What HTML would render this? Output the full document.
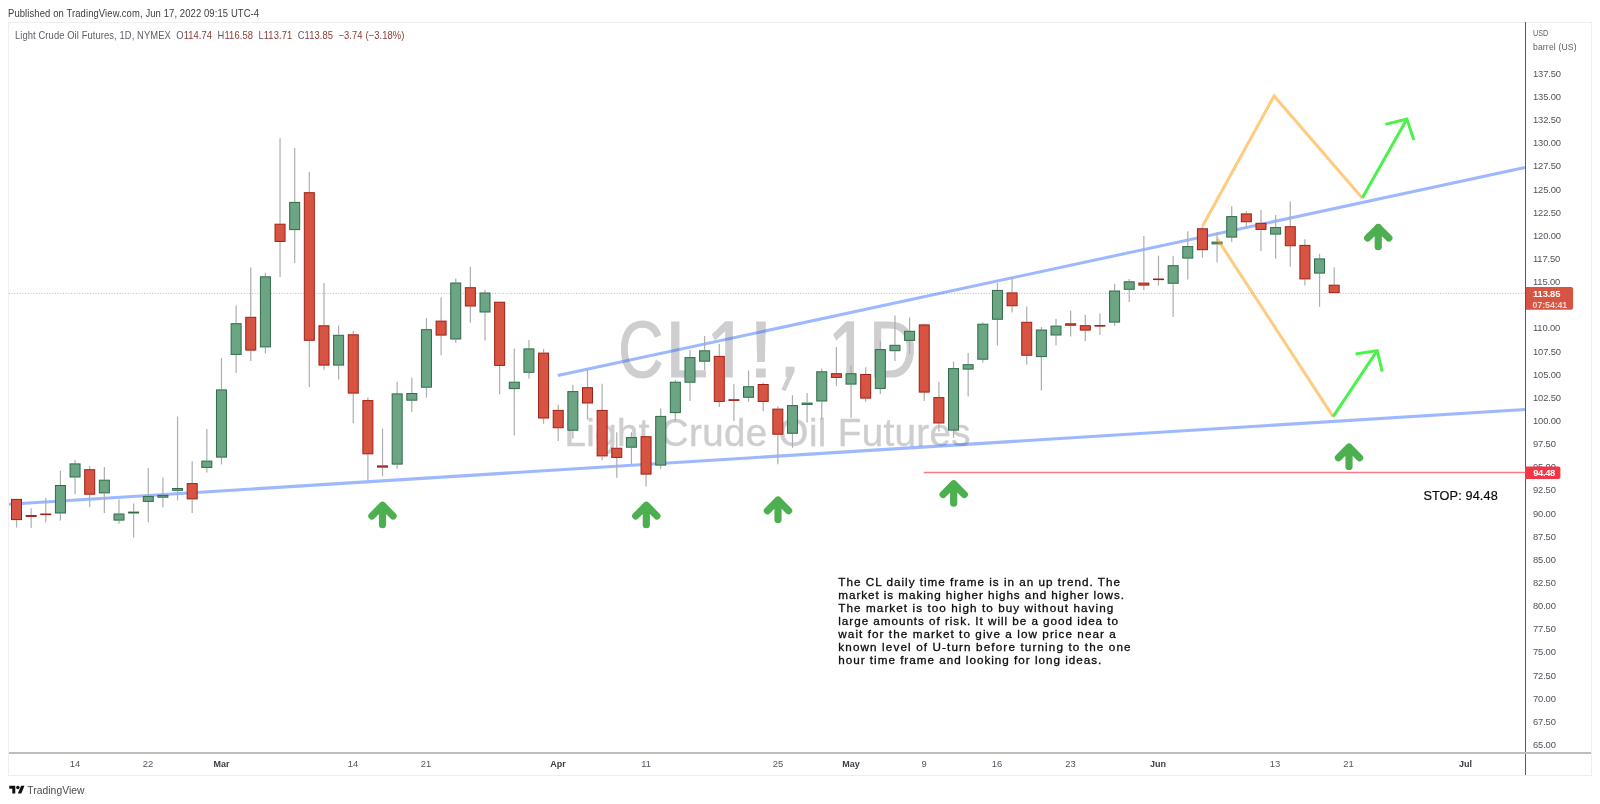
<!DOCTYPE html>
<html><head><meta charset="utf-8"><title>CL1! chart</title>
<style>
html,body{margin:0;padding:0;background:#fff;}
body{width:1600px;height:804px;position:relative;overflow:hidden;font-family:"Liberation Sans",sans-serif;}
div{position:absolute;white-space:nowrap;}
#root{left:0;top:0;width:1600px;height:804px;will-change:transform;}
#pub{left:8.4px;top:7.3px;font-size:10.5px;color:#3c3c3c;line-height:12px;letter-spacing:0.12px;transform:scaleX(0.899);transform-origin:0 0;}
#frame{left:8px;top:22px;width:1584px;height:754px;border:1px solid #eceef4;box-sizing:border-box;}
#legend{left:14.9px;top:29.9px;font-size:10.3px;line-height:12px;color:#5e6068;letter-spacing:0.1px;transform:scaleX(0.911);transform-origin:0 0;}
#legend b{font-weight:normal;color:#8a3a33;}
#wm1{left:467px;width:600px;text-align:center;top:299.5px;font-size:82.5px;line-height:92px;color:#3c3e46;-webkit-text-stroke:1.2px #3c3e46;opacity:0.25;transform:scaleX(0.905);}
#wm2{left:467.7px;width:600px;text-align:center;top:410.5px;font-size:38.5px;line-height:44px;color:#3c3e46;-webkit-text-stroke:0.5px #3c3e46;opacity:0.25;letter-spacing:0.37px;}
svg{position:absolute;left:0;top:0;}
#paxis{left:1525px;top:22px;width:1px;height:753px;background:#5a5a5a;}
#taxis{left:9px;top:752.3px;width:1582px;height:1.6px;background:#bdbdbd;}
.pl{left:1533px;font-size:9.4px;line-height:12px;color:#51535c;letter-spacing:-0.15px;}
.dl{width:40px;text-align:center;top:758px;font-size:9.4px;line-height:12px;color:#51535c;}
.dl.b{font-weight:bold;color:#3c3e46;font-size:9px;}
#unit{left:1533px;top:26.2px;font-size:8.6px;line-height:14.3px;color:#5b5d66;transform:scaleX(0.84);transform-origin:0 0;}
#unit2{left:1533px;top:40.3px;font-size:8.6px;line-height:14.3px;color:#5b5d66;letter-spacing:0.15px;}
#last{left:1525px;top:287px;width:48px;height:22.7px;}
#last .a{left:8.1px;top:1px;font-size:9.4px;line-height:12px;color:#fff;font-weight:bold;letter-spacing:-0.18px;}
#last .b{left:7.6px;top:11.6px;font-size:8.8px;line-height:12px;color:rgba(255,255,255,0.75);font-weight:bold;letter-spacing:-0.08px;}
#stopl{left:1525px;top:466px;width:35.4px;height:13px;}
#stopl .a{left:8.2px;top:1px;font-size:9.4px;line-height:12px;color:#fff;font-weight:bold;letter-spacing:-0.35px;}
#stopt{left:1423.4px;top:489.2px;font-size:12.7px;line-height:14px;color:#0a0a0a;letter-spacing:0.12px;-webkit-text-stroke:0.2px #0a0a0a;}
.nl{left:838.3px;font-size:11.7px;line-height:13px;color:#0a0a0a;-webkit-text-stroke:0.3px #0a0a0a;}
#logo{left:8.6px;top:783.5px;}
#logot{left:27.3px;top:784.5px;font-size:10.3px;line-height:12px;color:#4a4a4a;letter-spacing:0.05px;}
</style></head><body><div id="root">
<div id="pub">Published on TradingView.com, Jun 17, 2022 09:15 UTC-4</div>
<div id="frame"></div>
<svg width="1600" height="804" viewBox="0 0 1600 804"><g opacity="0.25" fill="#3c3e46" stroke="#3c3e46" stroke-width="1.2" font-family="Liberation Sans, sans-serif" font-size="80"><text transform="translate(618.20,377) scale(0.782,1)" x="0" y="0">C</text><text transform="translate(665.50,377) scale(0.953,1)" x="0" y="0">L</text><text transform="translate(748.65,377) scale(1.100,1)" x="0" y="0">!</text><text transform="translate(869.20,377) scale(0.819,1)" x="0" y="0">D</text><path stroke="none" d="M725.2 321.2 H732.8 V377.6 H725.2 V331.3 L715.0 340.6 L711.8 334.6 Z"/><path stroke="none" d="M846.4 321.2 H854.0 V377.6 H846.4 V331.3 L836.2 340.6 L833.0 334.6 Z"/><path stroke="none" d="M785.6 366.8 H794.6 V371.5 L785.4 391.2 L781.4 389.6 L787 377 H785.6 Z"/></g></svg>
<div id="wm2">Light Crude Oil Futures</div>
<div id="paxis"></div>
<div class="pl" style="top:67.9px">137.50</div>
<div class="pl" style="top:91.0px">135.00</div>
<div class="pl" style="top:114.1px">132.50</div>
<div class="pl" style="top:137.3px">130.00</div>
<div class="pl" style="top:160.4px">127.50</div>
<div class="pl" style="top:183.6px">125.00</div>
<div class="pl" style="top:206.7px">122.50</div>
<div class="pl" style="top:229.9px">120.00</div>
<div class="pl" style="top:253.0px">117.50</div>
<div class="pl" style="top:276.1px">115.00</div>
<div class="pl" style="top:299.3px">112.50</div>
<div class="pl" style="top:322.4px">110.00</div>
<div class="pl" style="top:345.6px">107.50</div>
<div class="pl" style="top:368.7px">105.00</div>
<div class="pl" style="top:391.9px">102.50</div>
<div class="pl" style="top:415.0px">100.00</div>
<div class="pl" style="top:438.1px">97.50</div>
<div class="pl" style="top:461.3px">95.00</div>
<div class="pl" style="top:484.4px">92.50</div>
<div class="pl" style="top:507.6px">90.00</div>
<div class="pl" style="top:530.7px">87.50</div>
<div class="pl" style="top:553.9px">85.00</div>
<div class="pl" style="top:577.0px">82.50</div>
<div class="pl" style="top:600.1px">80.00</div>
<div class="pl" style="top:623.3px">77.50</div>
<div class="pl" style="top:646.4px">75.00</div>
<div class="pl" style="top:669.6px">72.50</div>
<div class="pl" style="top:692.7px">70.00</div>
<div class="pl" style="top:715.9px">67.50</div>
<div class="pl" style="top:739.0px">65.00</div>
<svg width="1600" height="804" viewBox="0 0 1600 804">
<line x1="9.00" y1="293.40" x2="1525.00" y2="293.40" stroke="#e8837a" stroke-width="1" stroke-dasharray="1 1.7" opacity="0.75"/>
<line x1="9.00" y1="504.19" x2="1525.00" y2="409.44" stroke="rgba(41,98,255,0.45)" stroke-width="3" />
<line x1="557.80" y1="375.55" x2="1525.00" y2="167.51" stroke="rgba(41,98,255,0.45)" stroke-width="3" />
<line x1="923.75" y1="472.50" x2="1525.00" y2="472.50" stroke="rgba(242,54,69,0.65)" stroke-width="1.5" />
<line x1="16.50" y1="520.10" x2="16.50" y2="527.60" stroke="#adadad" stroke-width="1.2" />
<rect x="11.50" y="499.40" width="10" height="20.20" fill="#d75442" stroke="#9e2014" stroke-width="1"/>
<line x1="31.14" y1="508.30" x2="31.14" y2="515.00" stroke="#adadad" stroke-width="1.2" />
<line x1="31.14" y1="516.90" x2="31.14" y2="528.10" stroke="#adadad" stroke-width="1.2" />
<rect x="26.14" y="515.50" width="10" height="0.90" fill="#d75442" stroke="#9e2014" stroke-width="1"/>
<line x1="45.78" y1="497.90" x2="45.78" y2="513.50" stroke="#adadad" stroke-width="1.2" />
<line x1="45.78" y1="515.00" x2="45.78" y2="522.30" stroke="#adadad" stroke-width="1.2" />
<rect x="40.78" y="514.00" width="10" height="0.60" fill="#d75442" stroke="#9e2014" stroke-width="1"/>
<line x1="60.42" y1="470.70" x2="60.42" y2="485.00" stroke="#adadad" stroke-width="1.2" />
<line x1="60.42" y1="513.50" x2="60.42" y2="520.60" stroke="#adadad" stroke-width="1.2" />
<rect x="55.42" y="485.50" width="10" height="27.50" fill="#6ba583" stroke="#2f6b49" stroke-width="1"/>
<line x1="75.06" y1="460.00" x2="75.06" y2="463.40" stroke="#adadad" stroke-width="1.2" />
<line x1="75.06" y1="477.50" x2="75.06" y2="494.20" stroke="#adadad" stroke-width="1.2" />
<rect x="70.06" y="463.90" width="10" height="13.10" fill="#6ba583" stroke="#2f6b49" stroke-width="1"/>
<line x1="89.70" y1="466.00" x2="89.70" y2="469.20" stroke="#adadad" stroke-width="1.2" />
<line x1="89.70" y1="494.70" x2="89.70" y2="507.30" stroke="#adadad" stroke-width="1.2" />
<rect x="84.70" y="469.70" width="10" height="24.50" fill="#d75442" stroke="#9e2014" stroke-width="1"/>
<line x1="104.35" y1="467.00" x2="104.35" y2="479.70" stroke="#adadad" stroke-width="1.2" />
<line x1="104.35" y1="493.40" x2="104.35" y2="513.00" stroke="#adadad" stroke-width="1.2" />
<rect x="99.35" y="480.20" width="10" height="12.70" fill="#6ba583" stroke="#2f6b49" stroke-width="1"/>
<line x1="118.99" y1="499.40" x2="118.99" y2="513.50" stroke="#adadad" stroke-width="1.2" />
<line x1="118.99" y1="520.60" x2="118.99" y2="523.80" stroke="#adadad" stroke-width="1.2" />
<rect x="113.99" y="514.00" width="10" height="6.10" fill="#6ba583" stroke="#2f6b49" stroke-width="1"/>
<line x1="133.63" y1="503.60" x2="133.63" y2="511.60" stroke="#adadad" stroke-width="1.2" />
<line x1="133.63" y1="513.50" x2="133.63" y2="537.50" stroke="#adadad" stroke-width="1.2" />
<rect x="128.63" y="512.10" width="10" height="0.90" fill="#6ba583" stroke="#2f6b49" stroke-width="1"/>
<line x1="148.27" y1="467.90" x2="148.27" y2="495.90" stroke="#adadad" stroke-width="1.2" />
<line x1="148.27" y1="501.90" x2="148.27" y2="522.30" stroke="#adadad" stroke-width="1.2" />
<rect x="143.27" y="496.40" width="10" height="5.00" fill="#6ba583" stroke="#2f6b49" stroke-width="1"/>
<line x1="162.91" y1="477.50" x2="162.91" y2="494.90" stroke="#adadad" stroke-width="1.2" />
<line x1="162.91" y1="497.70" x2="162.91" y2="507.30" stroke="#adadad" stroke-width="1.2" />
<rect x="157.91" y="495.40" width="10" height="1.80" fill="#6ba583" stroke="#2f6b49" stroke-width="1"/>
<line x1="177.55" y1="416.50" x2="177.55" y2="488.00" stroke="#adadad" stroke-width="1.2" />
<line x1="177.55" y1="490.80" x2="177.55" y2="500.40" stroke="#adadad" stroke-width="1.2" />
<rect x="172.55" y="488.50" width="10" height="1.80" fill="#6ba583" stroke="#2f6b49" stroke-width="1"/>
<line x1="192.19" y1="461.30" x2="192.19" y2="483.10" stroke="#adadad" stroke-width="1.2" />
<line x1="192.19" y1="499.40" x2="192.19" y2="513.00" stroke="#adadad" stroke-width="1.2" />
<rect x="187.19" y="483.60" width="10" height="15.30" fill="#d75442" stroke="#9e2014" stroke-width="1"/>
<line x1="206.83" y1="429.10" x2="206.83" y2="460.60" stroke="#adadad" stroke-width="1.2" />
<line x1="206.83" y1="467.90" x2="206.83" y2="472.60" stroke="#adadad" stroke-width="1.2" />
<rect x="201.83" y="461.10" width="10" height="6.30" fill="#6ba583" stroke="#2f6b49" stroke-width="1"/>
<line x1="221.47" y1="358.10" x2="221.47" y2="389.40" stroke="#adadad" stroke-width="1.2" />
<line x1="221.47" y1="457.60" x2="221.47" y2="464.40" stroke="#adadad" stroke-width="1.2" />
<rect x="216.47" y="389.90" width="10" height="67.20" fill="#6ba583" stroke="#2f6b49" stroke-width="1"/>
<line x1="236.12" y1="305.60" x2="236.12" y2="323.20" stroke="#adadad" stroke-width="1.2" />
<line x1="236.12" y1="354.90" x2="236.12" y2="373.10" stroke="#adadad" stroke-width="1.2" />
<rect x="231.12" y="323.70" width="10" height="30.70" fill="#6ba583" stroke="#2f6b49" stroke-width="1"/>
<line x1="250.76" y1="267.50" x2="250.76" y2="316.80" stroke="#adadad" stroke-width="1.2" />
<line x1="250.76" y1="350.60" x2="250.76" y2="360.90" stroke="#adadad" stroke-width="1.2" />
<rect x="245.76" y="317.30" width="10" height="32.80" fill="#d75442" stroke="#9e2014" stroke-width="1"/>
<line x1="265.40" y1="272.80" x2="265.40" y2="276.30" stroke="#adadad" stroke-width="1.2" />
<line x1="265.40" y1="347.40" x2="265.40" y2="353.40" stroke="#adadad" stroke-width="1.2" />
<rect x="260.40" y="276.80" width="10" height="70.10" fill="#6ba583" stroke="#2f6b49" stroke-width="1"/>
<line x1="280.04" y1="138.20" x2="280.04" y2="223.70" stroke="#adadad" stroke-width="1.2" />
<line x1="280.04" y1="241.90" x2="280.04" y2="276.90" stroke="#adadad" stroke-width="1.2" />
<rect x="275.04" y="224.20" width="10" height="17.20" fill="#d75442" stroke="#9e2014" stroke-width="1"/>
<line x1="294.68" y1="148.10" x2="294.68" y2="201.90" stroke="#adadad" stroke-width="1.2" />
<line x1="294.68" y1="230.10" x2="294.68" y2="262.90" stroke="#adadad" stroke-width="1.2" />
<rect x="289.68" y="202.40" width="10" height="27.20" fill="#6ba583" stroke="#2f6b49" stroke-width="1"/>
<line x1="309.32" y1="172.10" x2="309.32" y2="192.20" stroke="#adadad" stroke-width="1.2" />
<line x1="309.32" y1="340.80" x2="309.32" y2="387.10" stroke="#adadad" stroke-width="1.2" />
<rect x="304.32" y="192.70" width="10" height="147.60" fill="#d75442" stroke="#9e2014" stroke-width="1"/>
<line x1="323.96" y1="283.10" x2="323.96" y2="325.30" stroke="#adadad" stroke-width="1.2" />
<line x1="323.96" y1="365.60" x2="323.96" y2="369.70" stroke="#adadad" stroke-width="1.2" />
<rect x="318.96" y="325.80" width="10" height="39.30" fill="#d75442" stroke="#9e2014" stroke-width="1"/>
<line x1="338.60" y1="325.60" x2="338.60" y2="334.80" stroke="#adadad" stroke-width="1.2" />
<line x1="338.60" y1="365.60" x2="338.60" y2="379.40" stroke="#adadad" stroke-width="1.2" />
<rect x="333.60" y="335.30" width="10" height="29.80" fill="#6ba583" stroke="#2f6b49" stroke-width="1"/>
<line x1="353.24" y1="330.70" x2="353.24" y2="334.30" stroke="#adadad" stroke-width="1.2" />
<line x1="353.24" y1="393.60" x2="353.24" y2="423.20" stroke="#adadad" stroke-width="1.2" />
<rect x="348.24" y="334.80" width="10" height="58.30" fill="#d75442" stroke="#9e2014" stroke-width="1"/>
<line x1="367.88" y1="397.20" x2="367.88" y2="400.10" stroke="#adadad" stroke-width="1.2" />
<line x1="367.88" y1="454.30" x2="367.88" y2="480.60" stroke="#adadad" stroke-width="1.2" />
<rect x="362.88" y="400.60" width="10" height="53.20" fill="#d75442" stroke="#9e2014" stroke-width="1"/>
<line x1="382.52" y1="428.60" x2="382.52" y2="465.40" stroke="#adadad" stroke-width="1.2" />
<line x1="382.52" y1="467.60" x2="382.52" y2="476.25" stroke="#adadad" stroke-width="1.2" />
<rect x="377.52" y="465.90" width="10" height="1.20" fill="#d75442" stroke="#9e2014" stroke-width="1"/>
<line x1="397.17" y1="381.70" x2="397.17" y2="393.40" stroke="#adadad" stroke-width="1.2" />
<line x1="397.17" y1="464.60" x2="397.17" y2="468.75" stroke="#adadad" stroke-width="1.2" />
<rect x="392.17" y="393.90" width="10" height="70.20" fill="#6ba583" stroke="#2f6b49" stroke-width="1"/>
<line x1="411.81" y1="377.80" x2="411.81" y2="393.00" stroke="#adadad" stroke-width="1.2" />
<line x1="411.81" y1="400.70" x2="411.81" y2="412.10" stroke="#adadad" stroke-width="1.2" />
<rect x="406.81" y="393.50" width="10" height="6.70" fill="#6ba583" stroke="#2f6b49" stroke-width="1"/>
<line x1="426.45" y1="318.10" x2="426.45" y2="329.20" stroke="#adadad" stroke-width="1.2" />
<line x1="426.45" y1="387.70" x2="426.45" y2="397.70" stroke="#adadad" stroke-width="1.2" />
<rect x="421.45" y="329.70" width="10" height="57.50" fill="#6ba583" stroke="#2f6b49" stroke-width="1"/>
<line x1="441.09" y1="297.50" x2="441.09" y2="320.60" stroke="#adadad" stroke-width="1.2" />
<line x1="441.09" y1="335.60" x2="441.09" y2="355.30" stroke="#adadad" stroke-width="1.2" />
<rect x="436.09" y="321.10" width="10" height="14.00" fill="#d75442" stroke="#9e2014" stroke-width="1"/>
<line x1="455.73" y1="278.40" x2="455.73" y2="282.50" stroke="#adadad" stroke-width="1.2" />
<line x1="455.73" y1="339.50" x2="455.73" y2="342.70" stroke="#adadad" stroke-width="1.2" />
<rect x="450.73" y="283.00" width="10" height="56.00" fill="#6ba583" stroke="#2f6b49" stroke-width="1"/>
<line x1="470.37" y1="266.80" x2="470.37" y2="287.20" stroke="#adadad" stroke-width="1.2" />
<line x1="470.37" y1="306.50" x2="470.37" y2="322.80" stroke="#adadad" stroke-width="1.2" />
<rect x="465.37" y="287.70" width="10" height="18.30" fill="#d75442" stroke="#9e2014" stroke-width="1"/>
<line x1="485.01" y1="290.00" x2="485.01" y2="292.50" stroke="#adadad" stroke-width="1.2" />
<line x1="485.01" y1="312.50" x2="485.01" y2="340.50" stroke="#adadad" stroke-width="1.2" />
<rect x="480.01" y="293.00" width="10" height="19.00" fill="#6ba583" stroke="#2f6b49" stroke-width="1"/>
<line x1="499.65" y1="365.90" x2="499.65" y2="394.30" stroke="#adadad" stroke-width="1.2" />
<rect x="494.65" y="302.20" width="10" height="63.20" fill="#d75442" stroke="#9e2014" stroke-width="1"/>
<line x1="514.29" y1="348.40" x2="514.29" y2="381.70" stroke="#adadad" stroke-width="1.2" />
<line x1="514.29" y1="389.10" x2="514.29" y2="435.60" stroke="#adadad" stroke-width="1.2" />
<rect x="509.29" y="382.20" width="10" height="6.40" fill="#6ba583" stroke="#2f6b49" stroke-width="1"/>
<line x1="528.93" y1="340.00" x2="528.93" y2="348.40" stroke="#adadad" stroke-width="1.2" />
<line x1="528.93" y1="372.80" x2="528.93" y2="378.80" stroke="#adadad" stroke-width="1.2" />
<rect x="523.93" y="348.90" width="10" height="23.40" fill="#6ba583" stroke="#2f6b49" stroke-width="1"/>
<line x1="543.58" y1="349.00" x2="543.58" y2="352.60" stroke="#adadad" stroke-width="1.2" />
<line x1="543.58" y1="418.50" x2="543.58" y2="423.75" stroke="#adadad" stroke-width="1.2" />
<rect x="538.58" y="353.10" width="10" height="64.90" fill="#d75442" stroke="#9e2014" stroke-width="1"/>
<line x1="558.22" y1="405.00" x2="558.22" y2="409.90" stroke="#adadad" stroke-width="1.2" />
<line x1="558.22" y1="428.25" x2="558.22" y2="441.00" stroke="#adadad" stroke-width="1.2" />
<rect x="553.22" y="410.40" width="10" height="17.35" fill="#d75442" stroke="#9e2014" stroke-width="1"/>
<line x1="572.86" y1="384.70" x2="572.86" y2="391.10" stroke="#adadad" stroke-width="1.2" />
<line x1="572.86" y1="430.70" x2="572.86" y2="438.40" stroke="#adadad" stroke-width="1.2" />
<rect x="567.86" y="391.60" width="10" height="38.60" fill="#6ba583" stroke="#2f6b49" stroke-width="1"/>
<line x1="587.50" y1="369.10" x2="587.50" y2="387.20" stroke="#adadad" stroke-width="1.2" />
<line x1="587.50" y1="403.50" x2="587.50" y2="419.60" stroke="#adadad" stroke-width="1.2" />
<rect x="582.50" y="387.70" width="10" height="15.30" fill="#d75442" stroke="#9e2014" stroke-width="1"/>
<line x1="602.14" y1="383.75" x2="602.14" y2="409.90" stroke="#adadad" stroke-width="1.2" />
<line x1="602.14" y1="456.40" x2="602.14" y2="460.30" stroke="#adadad" stroke-width="1.2" />
<rect x="597.14" y="410.40" width="10" height="45.50" fill="#d75442" stroke="#9e2014" stroke-width="1"/>
<line x1="616.78" y1="432.20" x2="616.78" y2="447.75" stroke="#adadad" stroke-width="1.2" />
<line x1="616.78" y1="457.90" x2="616.78" y2="477.75" stroke="#adadad" stroke-width="1.2" />
<rect x="611.78" y="448.25" width="10" height="9.15" fill="#d75442" stroke="#9e2014" stroke-width="1"/>
<line x1="631.42" y1="432.25" x2="631.42" y2="437.10" stroke="#adadad" stroke-width="1.2" />
<line x1="631.42" y1="447.70" x2="631.42" y2="464.20" stroke="#adadad" stroke-width="1.2" />
<rect x="626.42" y="437.60" width="10" height="9.60" fill="#6ba583" stroke="#2f6b49" stroke-width="1"/>
<line x1="646.06" y1="474.60" x2="646.06" y2="486.60" stroke="#adadad" stroke-width="1.2" />
<rect x="641.06" y="436.70" width="10" height="37.40" fill="#d75442" stroke="#9e2014" stroke-width="1"/>
<line x1="660.70" y1="408.40" x2="660.70" y2="415.90" stroke="#adadad" stroke-width="1.2" />
<line x1="660.70" y1="465.60" x2="660.70" y2="468.80" stroke="#adadad" stroke-width="1.2" />
<rect x="655.70" y="416.40" width="10" height="48.70" fill="#6ba583" stroke="#2f6b49" stroke-width="1"/>
<line x1="675.35" y1="379.90" x2="675.35" y2="381.70" stroke="#adadad" stroke-width="1.2" />
<line x1="675.35" y1="413.10" x2="675.35" y2="421.60" stroke="#adadad" stroke-width="1.2" />
<rect x="670.35" y="382.20" width="10" height="30.40" fill="#6ba583" stroke="#2f6b49" stroke-width="1"/>
<line x1="689.99" y1="350.30" x2="689.99" y2="357.10" stroke="#adadad" stroke-width="1.2" />
<line x1="689.99" y1="382.70" x2="689.99" y2="400.90" stroke="#adadad" stroke-width="1.2" />
<rect x="684.99" y="357.60" width="10" height="24.60" fill="#6ba583" stroke="#2f6b49" stroke-width="1"/>
<line x1="704.63" y1="335.90" x2="704.63" y2="350.30" stroke="#adadad" stroke-width="1.2" />
<line x1="704.63" y1="361.70" x2="704.63" y2="370.00" stroke="#adadad" stroke-width="1.2" />
<rect x="699.63" y="350.80" width="10" height="10.40" fill="#6ba583" stroke="#2f6b49" stroke-width="1"/>
<line x1="719.27" y1="343.90" x2="719.27" y2="355.90" stroke="#adadad" stroke-width="1.2" />
<line x1="719.27" y1="401.90" x2="719.27" y2="406.90" stroke="#adadad" stroke-width="1.2" />
<rect x="714.27" y="356.40" width="10" height="45.00" fill="#d75442" stroke="#9e2014" stroke-width="1"/>
<line x1="733.91" y1="384.05" x2="733.91" y2="399.25" stroke="#adadad" stroke-width="1.2" />
<line x1="733.91" y1="400.90" x2="733.91" y2="421.00" stroke="#adadad" stroke-width="1.2" />
<rect x="728.91" y="399.75" width="10" height="0.65" fill="#d75442" stroke="#9e2014" stroke-width="1"/>
<line x1="748.55" y1="370.40" x2="748.55" y2="386.20" stroke="#adadad" stroke-width="1.2" />
<line x1="748.55" y1="397.80" x2="748.55" y2="401.90" stroke="#adadad" stroke-width="1.2" />
<rect x="743.55" y="386.70" width="10" height="10.60" fill="#6ba583" stroke="#2f6b49" stroke-width="1"/>
<line x1="763.19" y1="382.40" x2="763.19" y2="384.00" stroke="#adadad" stroke-width="1.2" />
<line x1="763.19" y1="401.90" x2="763.19" y2="410.90" stroke="#adadad" stroke-width="1.2" />
<rect x="758.19" y="384.50" width="10" height="16.90" fill="#d75442" stroke="#9e2014" stroke-width="1"/>
<line x1="777.83" y1="406.60" x2="777.83" y2="408.60" stroke="#adadad" stroke-width="1.2" />
<line x1="777.83" y1="434.70" x2="777.83" y2="464.30" stroke="#adadad" stroke-width="1.2" />
<rect x="772.83" y="409.10" width="10" height="25.10" fill="#d75442" stroke="#9e2014" stroke-width="1"/>
<line x1="792.47" y1="395.30" x2="792.47" y2="405.10" stroke="#adadad" stroke-width="1.2" />
<line x1="792.47" y1="433.75" x2="792.47" y2="447.80" stroke="#adadad" stroke-width="1.2" />
<rect x="787.47" y="405.60" width="10" height="27.65" fill="#6ba583" stroke="#2f6b49" stroke-width="1"/>
<line x1="807.11" y1="393.10" x2="807.11" y2="402.60" stroke="#adadad" stroke-width="1.2" />
<line x1="807.11" y1="404.90" x2="807.11" y2="422.50" stroke="#adadad" stroke-width="1.2" />
<rect x="802.11" y="403.10" width="10" height="1.30" fill="#6ba583" stroke="#2f6b49" stroke-width="1"/>
<line x1="821.75" y1="368.50" x2="821.75" y2="371.30" stroke="#adadad" stroke-width="1.2" />
<line x1="821.75" y1="401.50" x2="821.75" y2="419.70" stroke="#adadad" stroke-width="1.2" />
<rect x="816.75" y="371.80" width="10" height="29.20" fill="#6ba583" stroke="#2f6b49" stroke-width="1"/>
<line x1="836.40" y1="347.10" x2="836.40" y2="373.20" stroke="#adadad" stroke-width="1.2" />
<line x1="836.40" y1="377.90" x2="836.40" y2="385.90" stroke="#adadad" stroke-width="1.2" />
<rect x="831.40" y="373.70" width="10" height="3.70" fill="#d75442" stroke="#9e2014" stroke-width="1"/>
<line x1="851.04" y1="365.30" x2="851.04" y2="373.20" stroke="#adadad" stroke-width="1.2" />
<line x1="851.04" y1="384.60" x2="851.04" y2="417.80" stroke="#adadad" stroke-width="1.2" />
<rect x="846.04" y="373.70" width="10" height="10.40" fill="#6ba583" stroke="#2f6b49" stroke-width="1"/>
<line x1="865.68" y1="367.20" x2="865.68" y2="374.00" stroke="#adadad" stroke-width="1.2" />
<line x1="865.68" y1="398.60" x2="865.68" y2="401.90" stroke="#adadad" stroke-width="1.2" />
<rect x="860.68" y="374.50" width="10" height="23.60" fill="#d75442" stroke="#9e2014" stroke-width="1"/>
<line x1="880.32" y1="340.70" x2="880.32" y2="349.10" stroke="#adadad" stroke-width="1.2" />
<line x1="880.32" y1="388.90" x2="880.32" y2="393.90" stroke="#adadad" stroke-width="1.2" />
<rect x="875.32" y="349.60" width="10" height="38.80" fill="#6ba583" stroke="#2f6b49" stroke-width="1"/>
<line x1="894.96" y1="315.60" x2="894.96" y2="344.80" stroke="#adadad" stroke-width="1.2" />
<line x1="894.96" y1="351.20" x2="894.96" y2="361.00" stroke="#adadad" stroke-width="1.2" />
<rect x="889.96" y="345.30" width="10" height="5.40" fill="#6ba583" stroke="#2f6b49" stroke-width="1"/>
<line x1="909.60" y1="317.50" x2="909.60" y2="330.80" stroke="#adadad" stroke-width="1.2" />
<line x1="909.60" y1="340.90" x2="909.60" y2="353.70" stroke="#adadad" stroke-width="1.2" />
<rect x="904.60" y="331.30" width="10" height="9.10" fill="#6ba583" stroke="#2f6b49" stroke-width="1"/>
<line x1="924.24" y1="323.70" x2="924.24" y2="324.40" stroke="#adadad" stroke-width="1.2" />
<line x1="924.24" y1="392.60" x2="924.24" y2="401.00" stroke="#adadad" stroke-width="1.2" />
<rect x="919.24" y="324.90" width="10" height="67.20" fill="#d75442" stroke="#9e2014" stroke-width="1"/>
<line x1="938.88" y1="382.00" x2="938.88" y2="397.10" stroke="#adadad" stroke-width="1.2" />
<line x1="938.88" y1="423.50" x2="938.88" y2="431.50" stroke="#adadad" stroke-width="1.2" />
<rect x="933.88" y="397.60" width="10" height="25.40" fill="#d75442" stroke="#9e2014" stroke-width="1"/>
<line x1="953.52" y1="361.60" x2="953.52" y2="368.10" stroke="#adadad" stroke-width="1.2" />
<line x1="953.52" y1="430.60" x2="953.52" y2="437.75" stroke="#adadad" stroke-width="1.2" />
<rect x="948.52" y="368.60" width="10" height="61.50" fill="#6ba583" stroke="#2f6b49" stroke-width="1"/>
<line x1="968.16" y1="353.10" x2="968.16" y2="364.20" stroke="#adadad" stroke-width="1.2" />
<line x1="968.16" y1="369.60" x2="968.16" y2="396.50" stroke="#adadad" stroke-width="1.2" />
<rect x="963.16" y="364.70" width="10" height="4.40" fill="#6ba583" stroke="#2f6b49" stroke-width="1"/>
<line x1="982.81" y1="322.20" x2="982.81" y2="323.70" stroke="#adadad" stroke-width="1.2" />
<line x1="982.81" y1="359.70" x2="982.81" y2="362.50" stroke="#adadad" stroke-width="1.2" />
<rect x="977.81" y="324.20" width="10" height="35.00" fill="#6ba583" stroke="#2f6b49" stroke-width="1"/>
<line x1="997.45" y1="282.80" x2="997.45" y2="289.90" stroke="#adadad" stroke-width="1.2" />
<line x1="997.45" y1="319.75" x2="997.45" y2="345.60" stroke="#adadad" stroke-width="1.2" />
<rect x="992.45" y="290.40" width="10" height="28.85" fill="#6ba583" stroke="#2f6b49" stroke-width="1"/>
<line x1="1012.09" y1="277.00" x2="1012.09" y2="292.40" stroke="#adadad" stroke-width="1.2" />
<line x1="1012.09" y1="306.25" x2="1012.09" y2="312.40" stroke="#adadad" stroke-width="1.2" />
<rect x="1007.09" y="292.90" width="10" height="12.85" fill="#d75442" stroke="#9e2014" stroke-width="1"/>
<line x1="1026.73" y1="306.60" x2="1026.73" y2="321.80" stroke="#adadad" stroke-width="1.2" />
<line x1="1026.73" y1="355.75" x2="1026.73" y2="364.75" stroke="#adadad" stroke-width="1.2" />
<rect x="1021.73" y="322.30" width="10" height="32.95" fill="#d75442" stroke="#9e2014" stroke-width="1"/>
<line x1="1041.37" y1="326.90" x2="1041.37" y2="329.50" stroke="#adadad" stroke-width="1.2" />
<line x1="1041.37" y1="357.10" x2="1041.37" y2="390.60" stroke="#adadad" stroke-width="1.2" />
<rect x="1036.37" y="330.00" width="10" height="26.60" fill="#6ba583" stroke="#2f6b49" stroke-width="1"/>
<line x1="1056.01" y1="319.00" x2="1056.01" y2="325.60" stroke="#adadad" stroke-width="1.2" />
<line x1="1056.01" y1="335.50" x2="1056.01" y2="345.60" stroke="#adadad" stroke-width="1.2" />
<rect x="1051.01" y="326.10" width="10" height="8.90" fill="#6ba583" stroke="#2f6b49" stroke-width="1"/>
<line x1="1070.65" y1="310.40" x2="1070.65" y2="323.30" stroke="#adadad" stroke-width="1.2" />
<line x1="1070.65" y1="325.75" x2="1070.65" y2="336.60" stroke="#adadad" stroke-width="1.2" />
<rect x="1065.65" y="323.80" width="10" height="1.45" fill="#d75442" stroke="#9e2014" stroke-width="1"/>
<line x1="1085.29" y1="315.10" x2="1085.29" y2="325.20" stroke="#adadad" stroke-width="1.2" />
<line x1="1085.29" y1="330.60" x2="1085.29" y2="340.90" stroke="#adadad" stroke-width="1.2" />
<rect x="1080.29" y="325.70" width="10" height="4.40" fill="#d75442" stroke="#9e2014" stroke-width="1"/>
<line x1="1099.93" y1="313.40" x2="1099.93" y2="325.00" stroke="#adadad" stroke-width="1.2" />
<line x1="1099.93" y1="325.90" x2="1099.93" y2="334.90" stroke="#adadad" stroke-width="1.2" />
<rect x="1094.93" y="325.50" width="10" height="0.60" fill="#d75442" stroke="#9e2014" stroke-width="1"/>
<line x1="1114.58" y1="283.75" x2="1114.58" y2="290.50" stroke="#adadad" stroke-width="1.2" />
<line x1="1114.58" y1="322.60" x2="1114.58" y2="325.90" stroke="#adadad" stroke-width="1.2" />
<rect x="1109.58" y="291.00" width="10" height="31.10" fill="#6ba583" stroke="#2f6b49" stroke-width="1"/>
<line x1="1129.22" y1="279.10" x2="1129.22" y2="281.30" stroke="#adadad" stroke-width="1.2" />
<line x1="1129.22" y1="289.80" x2="1129.22" y2="301.90" stroke="#adadad" stroke-width="1.2" />
<rect x="1124.22" y="281.80" width="10" height="7.50" fill="#6ba583" stroke="#2f6b49" stroke-width="1"/>
<line x1="1143.86" y1="235.90" x2="1143.86" y2="282.60" stroke="#adadad" stroke-width="1.2" />
<line x1="1143.86" y1="285.60" x2="1143.86" y2="290.10" stroke="#adadad" stroke-width="1.2" />
<rect x="1138.86" y="283.10" width="10" height="2.00" fill="#d75442" stroke="#9e2014" stroke-width="1"/>
<line x1="1158.50" y1="255.60" x2="1158.50" y2="278.50" stroke="#adadad" stroke-width="1.2" />
<line x1="1158.50" y1="280.00" x2="1158.50" y2="285.60" stroke="#adadad" stroke-width="1.2" />
<rect x="1153.50" y="279.00" width="10" height="0.60" fill="#d75442" stroke="#9e2014" stroke-width="1"/>
<line x1="1173.14" y1="256.00" x2="1173.14" y2="265.20" stroke="#adadad" stroke-width="1.2" />
<line x1="1173.14" y1="283.75" x2="1173.14" y2="317.00" stroke="#adadad" stroke-width="1.2" />
<rect x="1168.14" y="265.70" width="10" height="17.55" fill="#6ba583" stroke="#2f6b49" stroke-width="1"/>
<line x1="1187.78" y1="231.25" x2="1187.78" y2="246.10" stroke="#adadad" stroke-width="1.2" />
<line x1="1187.78" y1="258.60" x2="1187.78" y2="279.60" stroke="#adadad" stroke-width="1.2" />
<rect x="1182.78" y="246.60" width="10" height="11.50" fill="#6ba583" stroke="#2f6b49" stroke-width="1"/>
<line x1="1202.42" y1="226.75" x2="1202.42" y2="228.25" stroke="#adadad" stroke-width="1.2" />
<line x1="1202.42" y1="250.20" x2="1202.42" y2="257.50" stroke="#adadad" stroke-width="1.2" />
<rect x="1197.42" y="228.75" width="10" height="20.95" fill="#d75442" stroke="#9e2014" stroke-width="1"/>
<line x1="1217.06" y1="232.20" x2="1217.06" y2="241.60" stroke="#adadad" stroke-width="1.2" />
<line x1="1217.06" y1="244.40" x2="1217.06" y2="262.20" stroke="#adadad" stroke-width="1.2" />
<rect x="1212.06" y="242.10" width="10" height="1.80" fill="#6ba583" stroke="#2f6b49" stroke-width="1"/>
<line x1="1231.70" y1="206.30" x2="1231.70" y2="216.10" stroke="#adadad" stroke-width="1.2" />
<line x1="1231.70" y1="237.60" x2="1231.70" y2="241.90" stroke="#adadad" stroke-width="1.2" />
<rect x="1226.70" y="216.60" width="10" height="20.50" fill="#6ba583" stroke="#2f6b49" stroke-width="1"/>
<line x1="1246.34" y1="211.00" x2="1246.34" y2="213.40" stroke="#adadad" stroke-width="1.2" />
<line x1="1246.34" y1="222.25" x2="1246.34" y2="227.50" stroke="#adadad" stroke-width="1.2" />
<rect x="1241.34" y="213.90" width="10" height="7.85" fill="#d75442" stroke="#9e2014" stroke-width="1"/>
<line x1="1260.98" y1="210.00" x2="1260.98" y2="222.80" stroke="#adadad" stroke-width="1.2" />
<line x1="1260.98" y1="229.90" x2="1260.98" y2="250.90" stroke="#adadad" stroke-width="1.2" />
<rect x="1255.98" y="223.30" width="10" height="6.10" fill="#d75442" stroke="#9e2014" stroke-width="1"/>
<line x1="1275.63" y1="214.90" x2="1275.63" y2="227.10" stroke="#adadad" stroke-width="1.2" />
<line x1="1275.63" y1="234.60" x2="1275.63" y2="258.80" stroke="#adadad" stroke-width="1.2" />
<rect x="1270.63" y="227.60" width="10" height="6.50" fill="#6ba583" stroke="#2f6b49" stroke-width="1"/>
<line x1="1290.27" y1="201.60" x2="1290.27" y2="226.20" stroke="#adadad" stroke-width="1.2" />
<line x1="1290.27" y1="246.25" x2="1290.27" y2="266.50" stroke="#adadad" stroke-width="1.2" />
<rect x="1285.27" y="226.70" width="10" height="19.05" fill="#d75442" stroke="#9e2014" stroke-width="1"/>
<line x1="1304.91" y1="239.30" x2="1304.91" y2="244.90" stroke="#adadad" stroke-width="1.2" />
<line x1="1304.91" y1="279.40" x2="1304.91" y2="285.60" stroke="#adadad" stroke-width="1.2" />
<rect x="1299.91" y="245.40" width="10" height="33.50" fill="#d75442" stroke="#9e2014" stroke-width="1"/>
<line x1="1319.55" y1="253.75" x2="1319.55" y2="258.40" stroke="#adadad" stroke-width="1.2" />
<line x1="1319.55" y1="273.60" x2="1319.55" y2="306.80" stroke="#adadad" stroke-width="1.2" />
<rect x="1314.55" y="258.90" width="10" height="14.20" fill="#6ba583" stroke="#2f6b49" stroke-width="1"/>
<line x1="1334.19" y1="267.40" x2="1334.19" y2="284.70" stroke="#adadad" stroke-width="1.2" />
<rect x="1329.19" y="285.20" width="10" height="7.40" fill="#d75442" stroke="#9e2014" stroke-width="1"/>
<polyline points="1202.5,226.25 1274.1,95.9 1362.25,198.1" fill="none" stroke="rgba(255,152,0,0.5)" stroke-width="3" stroke-linejoin="miter"/>
<line x1="1217.20" y1="238.75" x2="1333.10" y2="416.60" stroke="rgba(255,152,0,0.5)" stroke-width="3" />
<path d="M1362.25 198.1 L1406.9 119 M1385.3 124.4 L1406.9 119 L1413.8 140" fill="none" stroke="#4cf24c" stroke-width="3" stroke-linejoin="miter"/>
<path d="M1333.1 416.6 L1377.2 350.6 M1355.6 354 L1377.2 350.6 L1382.25 371.6" fill="none" stroke="#4cf24c" stroke-width="3" stroke-linejoin="miter"/>
<path d="M382.50 524.70 L382.50 505.40 M371.90 516.00 L382.50 505.40 L393.10 516.00" fill="none" stroke="#4caf50" stroke-width="7.2" stroke-linecap="round" stroke-linejoin="round"/>
<path d="M646.30 524.70 L646.30 505.40 M635.70 516.00 L646.30 505.40 L656.90 516.00" fill="none" stroke="#4caf50" stroke-width="7.2" stroke-linecap="round" stroke-linejoin="round"/>
<path d="M778.00 519.40 L778.00 500.10 M767.40 510.70 L778.00 500.10 L788.60 510.70" fill="none" stroke="#4caf50" stroke-width="7.2" stroke-linecap="round" stroke-linejoin="round"/>
<path d="M953.70 503.20 L953.70 483.90 M943.10 494.50 L953.70 483.90 L964.30 494.50" fill="none" stroke="#4caf50" stroke-width="7.2" stroke-linecap="round" stroke-linejoin="round"/>
<path d="M1349.00 466.40 L1349.00 447.10 M1338.40 457.70 L1349.00 447.10 L1359.60 457.70" fill="none" stroke="#4caf50" stroke-width="7.2" stroke-linecap="round" stroke-linejoin="round"/>
<path d="M1378.25 246.75 L1378.25 227.45 M1367.65 238.05 L1378.25 227.45 L1388.85 238.05" fill="none" stroke="#4caf50" stroke-width="7.2" stroke-linecap="round" stroke-linejoin="round"/>
<path d="M1525 286.9 H1571.1 a2 2 0 0 1 2 2 V307.7 a2 2 0 0 1 -2 2 H1525 Z" fill="#d75442"/>
<rect x="1525" y="286.9" width="1" height="22.8" fill="#e21c08"/>
<path d="M1525 466.5 H1558.4 a2 2 0 0 1 2 2 V477 a2 2 0 0 1 -2 2 H1525 Z" fill="#f23645"/>
</svg>
<div id="legend">Light Crude Oil Futures, 1D, NYMEX&nbsp; O<b>114.74</b>&nbsp; H<b>116.58</b>&nbsp; L<b>113.71</b>&nbsp; C<b>113.85</b>&nbsp; <b>&minus;3.74 (&minus;3.18%)</b></div>
<div id="taxis"></div>
<div id="unit">USD</div><div id="unit2">barrel (US)</div>
<div id="last"><div class="a">113.85</div><div class="b">07:54:41</div></div>
<div id="stopl"><div class="a">94.48</div></div>
<div class="dl" style="left:55px">14</div>
<div class="dl" style="left:128px">22</div>
<div class="dl b" style="left:201.5px">Mar</div>
<div class="dl" style="left:333px">14</div>
<div class="dl" style="left:406px">21</div>
<div class="dl b" style="left:538px">Apr</div>
<div class="dl" style="left:626px">11</div>
<div class="dl" style="left:758px">25</div>
<div class="dl b" style="left:831px">May</div>
<div class="dl" style="left:904px">9</div>
<div class="dl" style="left:977px">16</div>
<div class="dl" style="left:1050.5px">23</div>
<div class="dl b" style="left:1138px">Jun</div>
<div class="dl" style="left:1255px">13</div>
<div class="dl" style="left:1328.5px">21</div>
<div class="dl b" style="left:1445.5px">Jul</div>
<div id="stopt">STOP: 94.48</div>
<div class="nl" style="top:574.90px;letter-spacing:1.004px"><span>The CL daily time frame is in an up trend. The</span></div>
<div class="nl" style="top:587.90px;letter-spacing:0.934px"><span>market is making higher highs and higher lows.</span></div>
<div class="nl" style="top:600.90px;letter-spacing:1.077px"><span>The market is too high to buy without having</span></div>
<div class="nl" style="top:613.90px;letter-spacing:0.961px"><span>large amounts of risk. It will be a good idea to</span></div>
<div class="nl" style="top:626.90px;letter-spacing:1.072px"><span>wait for the market to give a low price near a</span></div>
<div class="nl" style="top:639.90px;letter-spacing:1.127px"><span>known level of U-turn before turning to the one</span></div>
<div class="nl" style="top:652.90px;letter-spacing:0.987px"><span>hour time frame and looking for long ideas.</span></div>
<svg id="logo" style="left:8.6px;top:784.1px" width="16" height="12" viewBox="0 0 36 28"><path d="M14 22H7V11H0V4h14v18zM28 22h-8l7.5-18h8L28 22z" fill="#111"/><circle cx="20" cy="8" r="4" fill="#111"/></svg>
<div id="logot">TradingView</div>
</div></body></html>
